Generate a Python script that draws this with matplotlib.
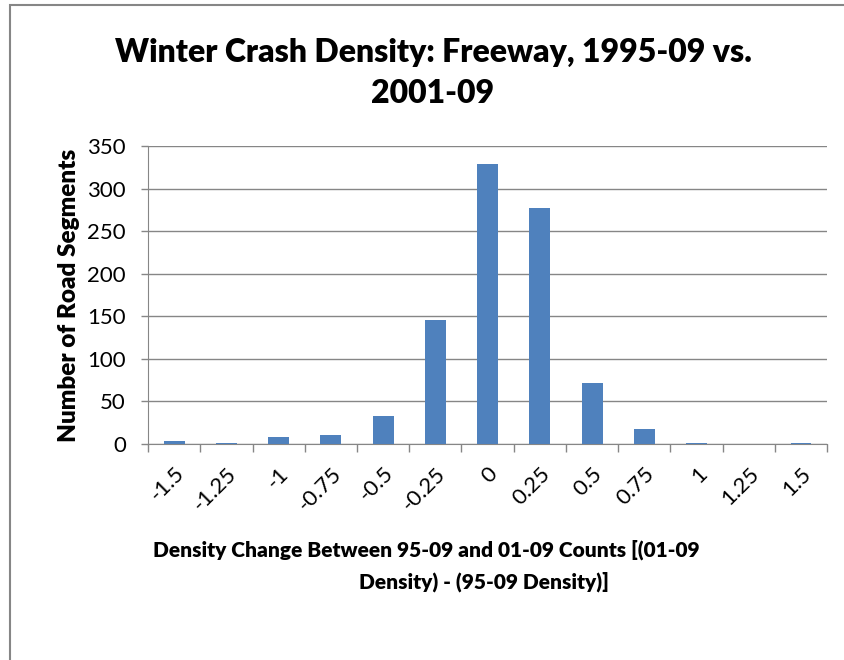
import matplotlib.pyplot as plt
from matplotlib.patches import Rectangle

categories = ["-1.5", "-1.25", "-1", "-0.75", "-0.5", "-0.25", "0",
              "0.25", "0.5", "0.75", "1", "1.25", "1.5"]
counts = [3, 1, 8, 10, 33, 146, 329, 277, 72, 18, 1, 0, 1]

plt.rcParams['font.family'] = ['Lato', 'DejaVu Sans']

fig = plt.figure(figsize=(8.44, 6.6), dpi=100)
ax = fig.add_axes([0.1754, 0.3273, 0.8046, 0.4515])

# outer chart border (left and top edges visible)
fig.add_artist(Rectangle((9.5 / 844, -0.1), 1.2, 1.1 - 5 / 660,
                         transform=fig.transFigure, fill=False,
                         edgecolor="#868686", linewidth=1.5))

x = list(range(len(categories)))
ax.bar(x, counts, width=0.4, color="#4f81bd", zorder=3)

ax.set_xlim(-0.5, len(categories) - 0.5)
ax.set_ylim(0, 350)
ax.set_yticks(range(0, 351, 50))
ax.yaxis.grid(True, color="#868686", linewidth=1, zorder=0)

ax.set_xticks([i - 0.5 for i in range(len(categories) + 1)])
ax.set_xticklabels([])
ax.set_xticks(x, minor=True)
ax.set_xticklabels(categories, minor=True, rotation=45, ha="right",
                   rotation_mode="anchor", fontsize=16)
ax.tick_params(axis="x", which="minor", length=0, pad=14)
ax.tick_params(axis="x", which="major", length=6, color="#868686", width=1)
ax.tick_params(axis="y", length=5, color="#868686", width=1, labelsize=16, pad=11)

for side in ["top", "right"]:
    ax.spines[side].set_visible(False)
ax.spines["left"].set_color("#868686")
ax.spines["bottom"].set_color("#868686")

ax.set_ylabel("Number of Road Segments", fontsize=17.5, fontweight="heavy", labelpad=5)

fig.text(0.513, 0.921, "Winter Crash Density: Freeway, 1995-09 vs.",
         ha="center", va="center", fontsize=23, fontweight="heavy")
fig.text(0.513, 0.859, "2001-09",
         ha="center", va="center", fontsize=23, fontweight="heavy")
fig.text(0.505, 0.167, "Density Change Between 95-09 and 01-09 Counts [(01-09",
         ha="center", va="center", fontsize=15, fontweight="heavy")
fig.text(0.574, 0.118, "Density) - (95-09 Density)]",
         ha="center", va="center", fontsize=15, fontweight="heavy")

fig.savefig("out.png", dpi=100)
